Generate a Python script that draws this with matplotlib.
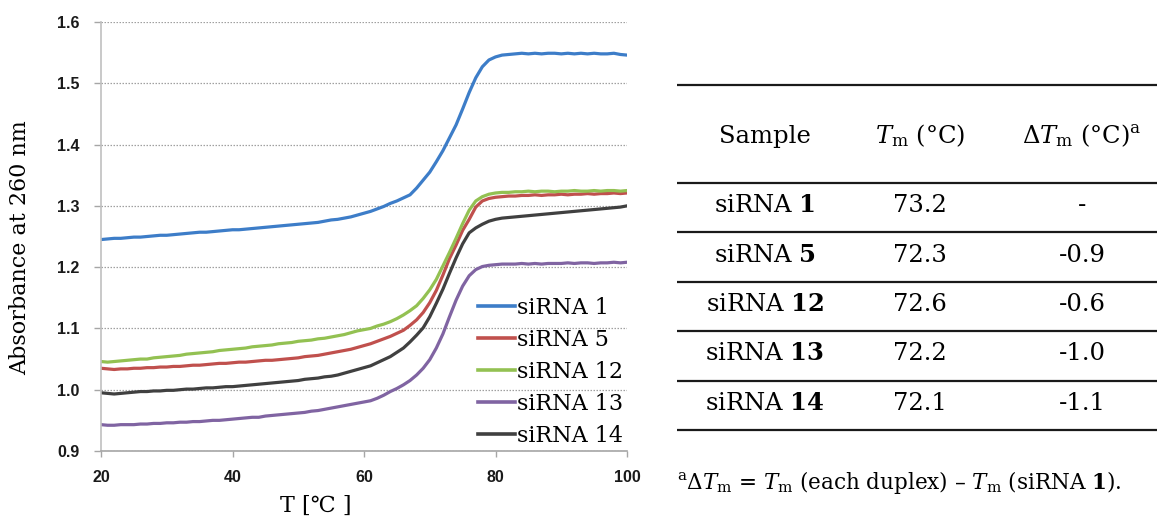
import numpy as np
import matplotlib
matplotlib.use("Agg")
import matplotlib.pyplot as plt

plt.rcParams['mathtext.fontset'] = 'dejavuserif'

# melting curves, absorbance at 260 nm read every 1 degC from 20 to 100
temp = np.arange(20, 101)

sirna1 = [1.245, 1.246, 1.247, 1.247, 1.248, 1.249, 1.249, 1.250, 1.251, 1.252,
          1.252, 1.253, 1.254, 1.255, 1.256, 1.257, 1.257, 1.258, 1.259, 1.260,
          1.261, 1.261, 1.262, 1.263, 1.264, 1.265, 1.266, 1.267, 1.268, 1.269,
          1.270, 1.271, 1.272, 1.273, 1.275, 1.277, 1.278, 1.280, 1.282, 1.285,
          1.288, 1.291, 1.295, 1.299, 1.304, 1.308, 1.313, 1.318, 1.329, 1.342,
          1.355, 1.372, 1.390, 1.411, 1.432, 1.458, 1.485, 1.509, 1.527, 1.538,
          1.543, 1.546, 1.547, 1.548, 1.549, 1.548, 1.549, 1.548, 1.549, 1.549,
          1.548, 1.549, 1.548, 1.549, 1.548, 1.549, 1.548, 1.548, 1.549, 1.547,
          1.546]
sirna5 = [1.035, 1.034, 1.033, 1.034, 1.034, 1.035, 1.035, 1.036, 1.036, 1.037,
          1.037, 1.038, 1.038, 1.039, 1.040, 1.040, 1.041, 1.042, 1.043, 1.043,
          1.044, 1.045, 1.045, 1.046, 1.047, 1.048, 1.048, 1.049, 1.050, 1.051,
          1.052, 1.054, 1.055, 1.056, 1.058, 1.060, 1.062, 1.064, 1.066, 1.069,
          1.072, 1.075, 1.079, 1.083, 1.087, 1.092, 1.097, 1.105, 1.114, 1.126,
          1.142, 1.162, 1.187, 1.214, 1.236, 1.260, 1.278, 1.298, 1.308, 1.312,
          1.314, 1.315, 1.316, 1.316, 1.317, 1.317, 1.318, 1.317, 1.318, 1.318,
          1.319, 1.318, 1.319, 1.319, 1.320, 1.319, 1.320, 1.320, 1.321, 1.320,
          1.321]
sirna12 = [1.046, 1.045, 1.046, 1.047, 1.048, 1.049, 1.050, 1.050, 1.052, 1.053,
           1.054, 1.055, 1.056, 1.058, 1.059, 1.060, 1.061, 1.062, 1.064, 1.065,
           1.066, 1.067, 1.068, 1.070, 1.071, 1.072, 1.073, 1.075, 1.076, 1.077,
           1.079, 1.080, 1.081, 1.083, 1.084, 1.086, 1.088, 1.090, 1.093, 1.096,
           1.098, 1.100, 1.104, 1.107, 1.111, 1.116, 1.122, 1.129, 1.137, 1.149,
           1.163, 1.180, 1.202, 1.224, 1.247, 1.271, 1.293, 1.308, 1.315, 1.319,
           1.321, 1.322, 1.322, 1.323, 1.323, 1.324, 1.323, 1.324, 1.324, 1.323,
           1.324, 1.324, 1.325, 1.324, 1.324, 1.325, 1.324, 1.325, 1.325, 1.324,
           1.325]
sirna13 = [0.943, 0.942, 0.942, 0.943, 0.943, 0.943, 0.944, 0.944, 0.945, 0.945,
           0.946, 0.946, 0.947, 0.947, 0.948, 0.948, 0.949, 0.950, 0.950, 0.951,
           0.952, 0.953, 0.954, 0.955, 0.955, 0.957, 0.958, 0.959, 0.960, 0.961,
           0.962, 0.963, 0.965, 0.966, 0.968, 0.970, 0.972, 0.974, 0.976, 0.978,
           0.980, 0.982, 0.986, 0.991, 0.997, 1.002, 1.008, 1.015, 1.024, 1.035,
           1.049, 1.068, 1.091, 1.119, 1.146, 1.169, 1.186, 1.196, 1.201, 1.203,
           1.204, 1.205, 1.205, 1.205, 1.206, 1.205, 1.206, 1.205, 1.206, 1.206,
           1.206, 1.207, 1.206, 1.207, 1.207, 1.206, 1.207, 1.207, 1.208, 1.207,
           1.208]
sirna14 = [0.995, 0.994, 0.993, 0.994, 0.995, 0.996, 0.997, 0.997, 0.998, 0.998,
           0.999, 0.999, 1.000, 1.001, 1.001, 1.002, 1.003, 1.003, 1.004, 1.005,
           1.005, 1.006, 1.007, 1.008, 1.009, 1.010, 1.011, 1.012, 1.013, 1.014,
           1.015, 1.017, 1.018, 1.019, 1.021, 1.022, 1.024, 1.027, 1.030, 1.033,
           1.036, 1.039, 1.044, 1.049, 1.054, 1.061, 1.068, 1.078, 1.089, 1.101,
           1.119, 1.141, 1.164, 1.190, 1.215, 1.238, 1.256, 1.264, 1.270, 1.275,
           1.278, 1.280, 1.281, 1.282, 1.283, 1.284, 1.285, 1.286, 1.287, 1.288,
           1.289, 1.290, 1.291, 1.292, 1.293, 1.294, 1.295, 1.296, 1.297, 1.298,
           1.300]

labels = ['siRNA 1', 'siRNA 5', 'siRNA 12', 'siRNA 13', 'siRNA 14']
colors = ['#3d7dc8', '#c0504d', '#93c152', '#8064a2', '#404040']

# table of melting temperatures
samples = ['1', '5', '12', '13', '14']
tm = [73.2, 72.3, 72.6, 72.2, 72.1]
dtm = ['-', '-0.9', '-0.6', '-1.0', '-1.1']

W, H = 1157, 520
fig = plt.figure(figsize=(W / 100, H / 100), dpi=100)
ax = fig.add_axes([101 / W, 1 - 451 / H, 526 / W, 429 / H])

for y, lab, c in zip([sirna1, sirna5, sirna12, sirna13, sirna14], labels, colors):
    ax.plot(temp, y, color=c, lw=2.3, label=lab)

ax.set_xlim(20, 100)
ax.set_ylim(0.9, 1.6)
ax.set_xticks([20, 40, 60, 80, 100])
ax.set_yticks(np.round(np.arange(0.9, 1.61, 0.1), 1))
ax.set_yticklabels(['%.1f' % v for v in ax.get_yticks()])
ax.yaxis.grid(True, linestyle=(0, (1.2, 1.2)), color='#a0a0a0', lw=0.9)
ax.set_axisbelow(True)
for s in ['top', 'right']:
    ax.spines[s].set_visible(False)
ax.spines['left'].set_color('#c0c0c0')
ax.spines['bottom'].set_color('#a6a6a6')
ax.spines['left'].set_linewidth(1.2)
ax.spines['bottom'].set_linewidth(1.2)
ax.tick_params(direction='out', width=1, color='#a6a6a6', labelcolor='#1a1a1a')
ax.tick_params(axis='y', length=5, pad=10.5)
ax.tick_params(axis='x', length=4, pad=10)
for t in ax.get_xticklabels() + ax.get_yticklabels():
    t.set_fontfamily('Liberation Sans')
    t.set_fontweight('bold')
    t.set_fontsize(11.5)

leg = ax.legend(loc='upper left', bbox_to_anchor=(478 / W, 1 - 297 / H),
                bbox_transform=fig.transFigure, frameon=False,
                prop={'family': 'DejaVu Serif', 'size': 16},
                handlelength=1.67, handletextpad=0.1, labelspacing=0.45,
                borderpad=0, borderaxespad=0)
for h in leg.get_lines():
    h.set_linewidth(2.6)

fig.text(20 / W, 1 - 248 / H, 'Absorbance at 260 nm', rotation=90,
         ha='center', va='center', family='DejaVu Serif', fontsize=16)
fig.text(316 / W, 1 - 506 / H, 'T [℃ ]', ha='center', va='center',
         family=['DejaVu Serif', 'Noto Sans CJK JP'], fontsize=16)

# table drawn in pixel coordinates
tab = fig.add_axes([0, 0, 1, 1])
tab.set_xlim(0, W)
tab.set_ylim(H, 0)
tab.axis('off')

x0, x1 = 677, W
col_x = [765, 920, 1082]
top, head_bot, row_h = 85, 183, 49.4
tab.hlines([top, head_bot], x0, x1, color='#1a1a1a', lw=1.6)
tfont = dict(family='DejaVu Serif', fontsize=17.5, ha='center', va='center')
hy = 136
tab.text(col_x[0], hy, 'Sample', **tfont)
tab.text(col_x[1], hy, r'$T_\mathrm{m}$ (°C)', **tfont)
tab.text(col_x[2], hy, r'$\Delta T_\mathrm{m}$ (°C)$^\mathrm{a}$', **tfont)
for i, (s, t, d) in enumerate(zip(samples, tm, dtm)):
    yc = head_bot + row_h * i + row_h / 2 - 2
    tab.text(col_x[0], yc, r'siRNA $\mathbf{%s}$' % s, **tfont)
    tab.text(col_x[1], yc, '%.1f' % t, **tfont)
    tab.text(col_x[2], yc, d, **tfont)
    tab.hlines(head_bot + row_h * (i + 1), x0, x1, color='#1a1a1a', lw=1.6)

tab.text(x0, 483, r'$^\mathrm{a}\Delta T_\mathrm{m}$ = $T_\mathrm{m}$ (each duplex) – '
         r'$T_\mathrm{m}$ (siRNA $\mathbf{1}$).',
         family='DejaVu Serif', fontsize=15.5, ha='left', va='center')

fig.savefig('out.png', dpi=100)
